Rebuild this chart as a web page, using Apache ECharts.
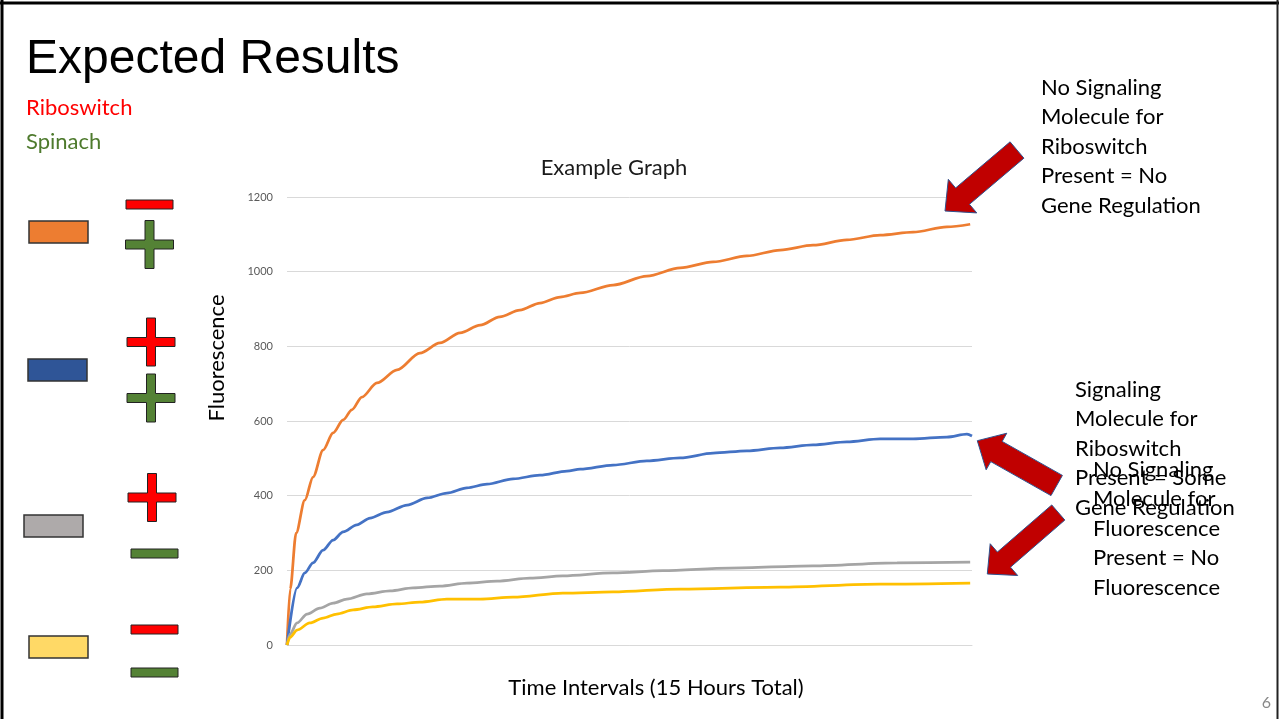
<!DOCTYPE html>
<html>
<head>
<meta charset="utf-8">
<script src="https://cdn.jsdelivr.net/npm/echarts@6/dist/echarts.min.js"></script>
<style>
html,body{margin:0;padding:0;background:#fff;}
#chart{width:1279px;height:719px;}
</style>
</head>
<body>
<div id="chart"></div>
<script>
// ---------- DATA (time in hours, fluorescence) ----------
const seriesNames = ['No signaling molecule', 'Signaling molecule', 'No fluorescence molecule', 'Control'];
const orangeTime = [0, 0.07, 0.20, 0.39, 0.57, 0.79, 1.01, 1.23, 1.42, 1.64, 1.97, 2.41, 2.91, 3.35, 3.79, 4.23, 4.66, 5.10, 5.54, 5.98, 6.42, 7.14, 7.88, 8.61, 9.33, 10.07, 10.80, 11.52, 12.26, 12.99, 13.71, 14.45, 14.96];
const orangeVals = [0, 150, 300, 388, 450, 522, 568, 603, 630, 664, 702, 737, 782, 809, 836, 857, 879, 897, 916, 932, 943, 964, 988, 1010, 1026, 1042, 1058, 1071, 1085, 1098, 1106, 1120, 1127];
const blueTime = [0, 0.22, 0.39, 0.57, 0.79, 1.01, 1.23, 1.53, 1.82, 2.19, 2.63, 3.07, 3.50, 3.94, 4.38, 4.95, 5.54, 6.13, 6.42, 7.14, 7.88, 8.61, 9.33, 10.07, 10.80, 11.52, 12.26, 12.99, 13.71, 14.45, 14.89, 15.0];
const blueVals = [0, 153, 193, 220, 254, 281, 303, 322, 340, 356, 375, 394, 407, 421, 431, 445, 455, 466, 471, 482, 493, 501, 514, 520, 528, 536, 544, 552, 552, 557, 565, 560];
const grayTime = [0, 0.07, 0.22, 0.44, 0.72, 1.01, 1.31, 1.75, 2.26, 2.76, 3.35, 3.94, 4.60, 5.32, 6.04, 7.14, 8.23, 9.70, 11.52, 13.36, 14.96];
const grayVals = [0, 30, 59, 83, 99, 112, 123, 137, 145, 153, 158, 166, 171, 179, 185, 193, 199, 206, 212, 220, 222];
const yellowTime = [0, 0.07, 0.22, 0.50, 0.79, 1.09, 1.45, 1.88, 2.41, 2.91, 3.50, 4.23, 4.95, 6.04, 7.14, 8.61, 10.80, 12.99, 14.96];
const yellowVals = [0, 21, 40, 59, 72, 83, 94, 102, 110, 115, 123, 123, 128, 139, 142, 150, 155, 163, 166];
const yTicks = [0, 200, 400, 600, 800, 1000, 1200];

// ---------- STYLE / LAYOUT ----------
const COLORS = ['#ED7D31', '#4472C4', '#A5A5A5', '#FFC000'];
const CAL = 'Lato, "Open Sans", sans-serif';

function pairs(t, v) { return t.map((x, i) => [x, v[i]]); }

function arrowPts(tail, tip, sw, hw, hl) {
  const dx = tip[0] - tail[0], dy = tip[1] - tail[1];
  const L = Math.hypot(dx, dy), ux = dx / L, uy = dy / L, px = -uy, py = ux;
  const bx = tip[0] - ux * hl, by = tip[1] - uy * hl;
  return [
    [tail[0] + px * sw, tail[1] + py * sw],
    [bx + px * sw, by + py * sw],
    [bx + px * hw, by + py * hw],
    [tip[0], tip[1]],
    [bx - px * hw, by - py * hw],
    [bx - px * sw, by - py * sw],
    [tail[0] - px * sw, tail[1] - py * sw]
  ];
}
function plusPts(cx, cy, half, t) {
  const h = t / 2;
  return [
    [cx - h, cy - half], [cx + h, cy - half], [cx + h, cy - h], [cx + half, cy - h],
    [cx + half, cy + h], [cx + h, cy + h], [cx + h, cy + half], [cx - h, cy + half],
    [cx - h, cy + h], [cx - half, cy + h], [cx - half, cy - h], [cx - h, cy - h]
  ];
}
function arrow(tail, tip, sw, hw, hl) {
  return { type: 'polygon', shape: { points: arrowPts(tail, tip, sw, hw, hl) },
    style: { fill: '#C00000', stroke: '#2F528F', lineWidth: 1 }, z: 10 };
}
function plus(cx, cy, fill) {
  return { type: 'polygon', shape: { points: plusPts(cx, cy, 24, 9) },
    style: { fill: fill, stroke: '#222', lineWidth: 1 } };
}
function minus(x, y, fill) {
  return { type: 'rect', shape: { x: x, y: y, width: 47, height: 9 },
    style: { fill: fill, stroke: '#222', lineWidth: 1 } };
}
function box(x, y, fill) {
  return { type: 'rect', shape: { x: x, y: y, width: 59, height: 22 },
    style: { fill: fill, stroke: '#333', lineWidth: 1.5 } };
}
function txt(x, y, text, size, fill, extra, rot) {
  return { type: 'text', x: x, y: y, z: 20, rotation: rot || 0,
    style: Object.assign({ text: text, fill: fill, font: size + 'px ' + CAL,
      textAlign: 'left', verticalAlign: 'top', textVerticalAlign: 'top' }, extra || {}) };
}
const RED = '#FF0000', GREEN = '#548235';
const CENTER = { textAlign: 'center', verticalAlign: 'middle', textVerticalAlign: 'middle' };

function lineSeries(i, t, v) {
  return { name: seriesNames[i], type: 'line', data: pairs(t, v), showSymbol: false,
    smooth: 0.3, smoothMonotone: 'x',
    lineStyle: { color: COLORS[i], width: 2.75 }, itemStyle: { color: COLORS[i] } };
}

const chart = echarts.init(document.getElementById('chart'), null, { renderer: 'canvas' });
chart.setOption({
  animation: false,
  backgroundColor: '#fff',
  grid: { left: 287, right: 307, top: 197, bottom: 74 },
  xAxis: {
    type: 'value', min: 0, max: 15,
    axisLine: { show: true, lineStyle: { color: '#D9D9D9', width: 1 } },
    axisTick: { show: false }, axisLabel: { show: false }, splitLine: { show: false }
  },
  yAxis: {
    type: 'value', min: yTicks[0], max: yTicks[yTicks.length - 1], interval: 200,
    axisLine: { show: false }, axisTick: { show: false },
    axisLabel: { fontFamily: CAL, fontSize: 11, color: '#595959', margin: 14, formatter: v => String(v) },
    splitLine: { lineStyle: { color: '#D9D9D9', width: 1 } }
  },
  series: [
    lineSeries(0, orangeTime, orangeVals),
    lineSeries(1, blueTime, blueVals),
    lineSeries(2, grayTime, grayVals),
    lineSeries(3, yellowTime, yellowVals)
  ],
  graphic: [
    // slide frame
    { type: 'line', shape: { x1: 0, y1: 3, x2: 1279, y2: 3 }, style: { stroke: '#000', lineWidth: 3 } },
    { type: 'line', shape: { x1: 2, y1: 0, x2: 2, y2: 719 }, style: { stroke: '#000', lineWidth: 3 } },
    { type: 'line', shape: { x1: 1277.5, y1: 0, x2: 1277.5, y2: 719 }, style: { stroke: '#222', lineWidth: 2 } },
    // slide title and subtitles
    { type: 'text', x: 26, y: 36, z: 20, style: { text: 'Expected Results', fill: '#000', font: '48px "Liberation Sans", Arial, sans-serif', verticalAlign: 'top', textVerticalAlign: 'top' } },
    txt(26, 97, 'Riboswitch', 22, RED),
    txt(26, 131, 'Spinach', 22, '#4E7A2D'),
    // chart title and axis titles
    txt(614, 168, 'Example Graph', 22, '#1a1a1a', CENTER),
    txt(217, 358, 'Fluorescence', 22, '#000', CENTER, Math.PI / 2),
    txt(656, 688, 'Time Intervals (15 Hours Total)', 22, '#000', CENTER),
    // legend boxes
    box(29, 221, '#ED7D31'), box(28, 359, '#2F5597'), box(24, 515, '#AEAAAA'), box(29, 636, '#FFD966'),
    // signs
    minus(126, 200, RED), plus(149.5, 244.5, GREEN),
    plus(151, 342, RED), plus(151, 398, GREEN),
    plus(152, 497.5, RED), minus(131, 549, GREEN),
    minus(131, 625, RED), minus(131, 668, GREEN),
    // arrows
    arrow([1017, 150], [945, 211], 10.7, 22, 23),
    arrow([1056.7, 485.5], [977.3, 440.7], 11.6, 21, 22),
    arrow([1058.3, 512.5], [987.3, 574], 10, 21, 22),
    // annotations
    txt(1041, 73, 'No Signaling\nMolecule for\nRiboswitch\nPresent = No\nGene Regulation', 22, '#000', { lineHeight: 29.5 }),
    txt(1075, 375, 'Signaling\nMolecule for\nRiboswitch\nPresent = Some\nGene Regulation', 22, '#000', { lineHeight: 29.5 }),
    txt(1093, 455, 'No Signaling\nMolecule for\nFluorescence\nPresent = No\nFluorescence', 22, '#000', { lineHeight: 29.5 }),
    // page number
    txt(1271, 695, '6', 16, '#898989', { textAlign: 'right' })
  ]
});
</script>
</body>
</html>
